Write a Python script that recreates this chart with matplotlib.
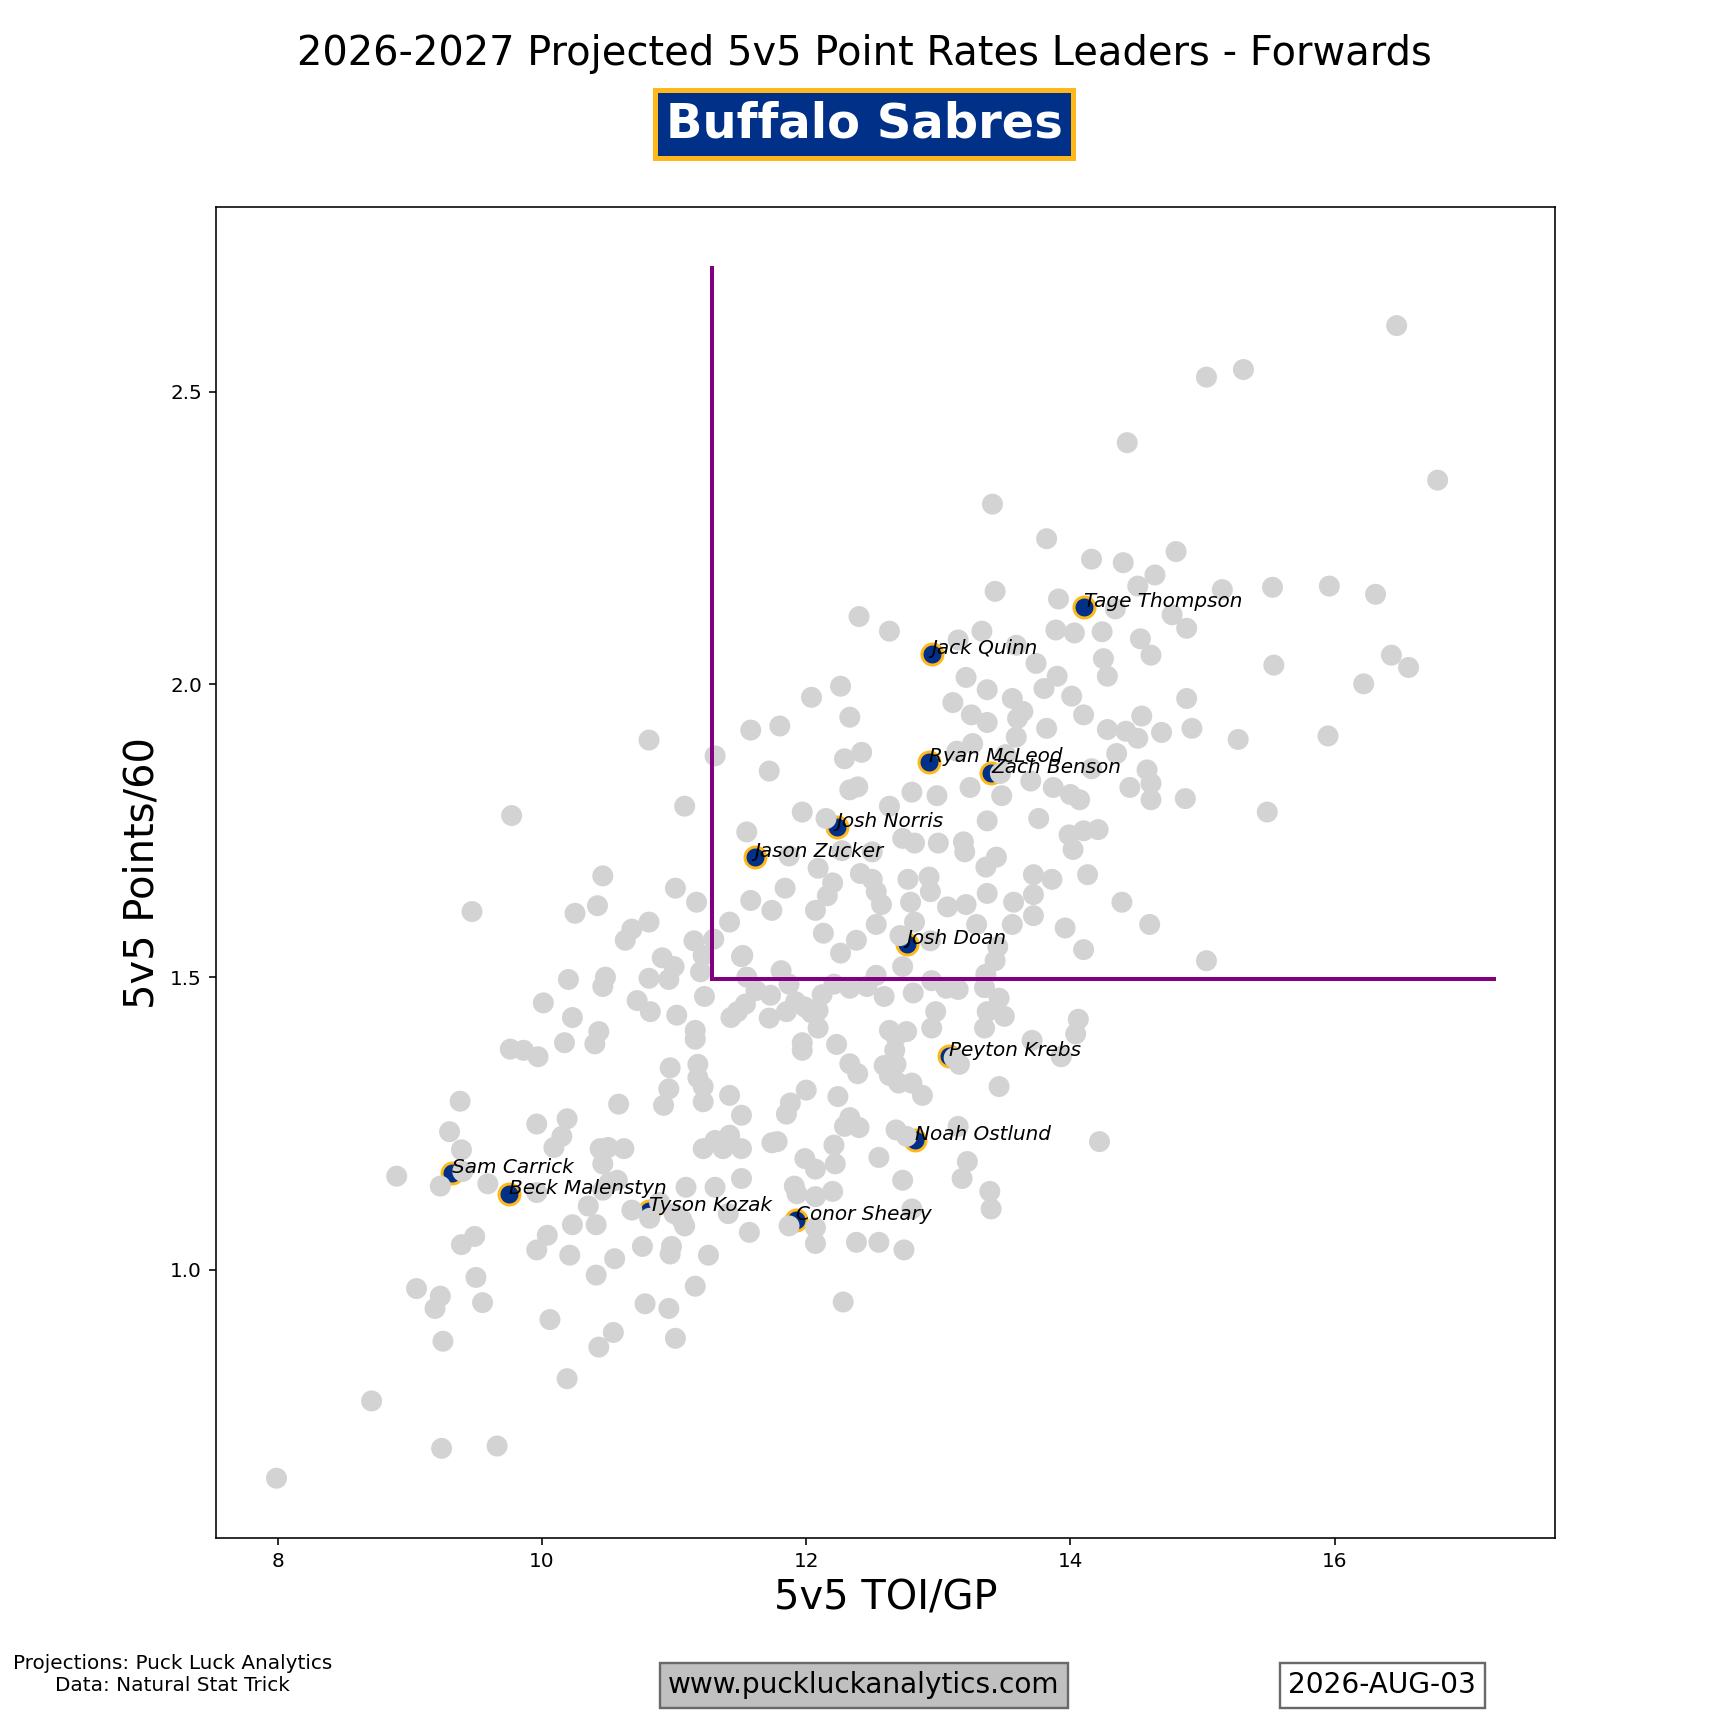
import matplotlib
matplotlib.use("Agg")
import matplotlib.pyplot as plt

# ---- data ----
league_toi = [
16.47,15.31,15.03,14.43,16.78,13.41,13.82,14.80,14.16,14.40,14.64,14.51,13.43,15.15,15.53,15.96,16.31,13.91,14.34,12.40,14.77,14.88,13.89,14.03,14.24,14.53,
12.63,13.33,13.15,14.61,14.25,16.43,16.56,15.54,13.74,13.59,13.21,14.28,13.90,13.80,13.37,16.22,14.01,12.04,13.56,13.11,14.88,12.26,13.64,14.54,14.10,13.60,12.33,13.25,13.37,14.28,14.42,13.82,14.69,14.92,15.27,15.95,11.58,11.80,14.51,13.59,10.81,11.31,11.72,12.42,12.29,13.14,13.26,14.35,13.51,14.16,14.58,14.61,14.45,13.87,14.00,13.70,13.24,13.48,14.61,14.87,14.07,12.80,12.99,12.33,12.39,11.08,12.63,11.97,15.49,9.77,13.76,13.37,14.21,14.10,13.99,12.15,11.55,13.00,12.82,12.73,13.19,13.20,13.44,14.02,12.50,12.27,11.87,14.13,13.72,13.36,12.93,12.77,12.50,12.41,12.20,12.09,10.46,13.86,13.37,13.57,13.72,11.01,11.84,12.53,12.94,14.39,12.79,13.21,13.07,12.57,11.17,12.07,11.58,12.16,9.47,10.42,10.25,11.74,13.29,13.56,13.72,14.60,13.96,12.53,12.82,12.71,11.42,10.68,10.81,10.63,12.13,12.38,11.15,11.30,12.94,13.45,14.10,12.26,11.52,11.22,10.91,11.00,15.03,12.73,13.43,10.81,11.20,10.96,10.48,10.20,10.46,11.55,11.23,11.62,11.81,11.87,11.92,12.53,12.46,12.33,12.21,12.12,12.95,13.06,12.59,12.81,13.36,13.35,13.15,13.46,13.37,13.50,12.98,14.06,14.04,13.71,13.93,13.35,12.95,12.76,12.68,12.63,12.67,12.68,12.59,12.63,12.70,12.80,12.88,13.16,13.46,13.15,13.22,13.18,13.39,13.40,14.22,12.73,12.80,12.74,12.55,12.38,12.28,12.55,12.68,12.40,12.21,12.29,12.33,12.24,12.33,12.39,12.23,12.22,12.20,11.99,12.00,11.97,11.97,12.09,12.04,12.07,11.91,11.93,12.07,11.87,12.07,12.07,11.85,11.88,11.78,11.74,11.51,11.42,11.31,11.22,11.37,11.51,11.31,11.09,11.41,11.06,11.08,11.57,11.26,11.00,11.16,11.01,10.96,10.97,10.98,10.76,10.78,10.55,10.54,10.43,10.41,10.21,10.19,10.06,10.04,10.23,10.41,10.35,10.46,10.51,10.57,10.46,10.44,10.50,10.62,10.58,10.89,10.92,10.96,10.97,11.18,11.18,11.22,11.22,11.42,11.16,11.16,11.02,11.43,11.48,11.54,11.51,11.72,11.73,11.85,11.99,12.09,11.51,
8.71,7.99,9.24,9.66,9.25,9.19,9.05,9.23,9.55,9.50,9.39,9.49,8.90,9.23,9.40,9.59,9.30,9.39,9.38,9.96,9.96,9.96,10.09,10.15,10.19,9.97,9.86,9.76,10.17,10.23,10.01,10.43,10.40,10.72,10.82,
13.12,10.815,10.68,12.76,13.47,
]
league_pts = [
2.613,2.538,2.525,2.413,2.349,2.308,2.249,2.227,2.214,2.208,2.187,2.168,2.159,2.162,2.166,2.168,2.154,2.146,2.129,2.116,2.119,2.096,2.093,2.088,2.090,2.078,
2.091,2.091,2.076,2.050,2.044,2.050,2.029,2.033,2.036,2.067,2.012,2.014,2.014,1.993,1.991,2.001,1.980,1.978,1.976,1.969,1.976,1.997,1.954,1.946,1.948,1.942,1.944,1.948,1.935,1.923,1.920,1.925,1.918,1.925,1.906,1.912,1.922,1.929,1.908,1.910,1.905,1.878,1.852,1.884,1.873,1.886,1.899,1.882,1.880,1.856,1.854,1.831,1.824,1.824,1.812,1.835,1.824,1.810,1.803,1.805,1.803,1.816,1.810,1.820,1.825,1.792,1.792,1.782,1.782,1.776,1.771,1.767,1.752,1.750,1.743,1.771,1.748,1.729,1.729,1.737,1.731,1.714,1.705,1.718,1.714,1.716,1.707,1.675,1.675,1.688,1.671,1.667,1.667,1.677,1.661,1.686,1.673,1.667,1.643,1.628,1.641,1.652,1.652,1.646,1.646,1.628,1.628,1.624,1.620,1.624,1.628,1.614,1.631,1.639,1.612,1.622,1.609,1.614,1.590,1.590,1.605,1.590,1.584,1.590,1.594,1.571,1.594,1.582,1.594,1.563,1.575,1.563,1.562,1.565,1.562,1.552,1.547,1.541,1.537,1.537,1.533,1.518,1.528,1.518,1.528,1.498,1.509,1.496,1.500,1.496,1.484,1.500,1.467,1.477,1.511,1.488,1.458,1.503,1.484,1.481,1.488,1.470,1.494,1.481,1.467,1.473,1.505,1.482,1.479,1.464,1.441,1.433,1.441,1.428,1.403,1.392,1.364,1.413,1.413,1.407,1.398,1.409,1.375,1.351,1.349,1.332,1.319,1.319,1.298,1.351,1.313,1.245,1.185,1.156,1.134,1.104,1.219,1.153,1.104,1.034,1.047,1.047,0.945,1.192,1.239,1.243,1.213,1.245,1.260,1.296,1.352,1.335,1.385,1.181,1.134,1.190,1.307,1.388,1.375,1.413,1.439,1.172,1.143,1.130,1.125,1.075,1.072,1.045,1.266,1.285,1.219,1.217,1.207,1.230,1.221,1.207,1.207,1.156,1.141,1.141,1.096,1.085,1.075,1.064,1.025,1.096,0.972,0.883,0.934,1.027,1.040,1.040,0.942,1.019,0.893,0.868,0.991,1.025,0.814,0.915,1.059,1.077,1.077,1.109,1.136,1.149,1.153,1.181,1.207,1.209,1.207,1.283,1.115,1.281,1.309,1.345,1.351,1.328,1.313,1.287,1.298,1.394,1.409,1.435,1.431,1.441,1.454,1.535,1.430,1.469,1.441,1.449,1.443,1.264,
0.776,0.644,0.695,0.699,0.878,0.934,0.968,0.955,0.944,0.987,1.043,1.057,1.160,1.143,1.168,1.147,1.236,1.205,1.288,1.034,1.132,1.249,1.209,1.228,1.258,1.364,1.375,1.377,1.388,1.431,1.456,1.407,1.386,1.460,1.441,
1.362,1.088,1.102,1.228,1.848,
]

team_players = ["Tage Thompson", "Jack Quinn", "Ryan McLeod", "Zach Benson", "Josh Norris",
                "Jason Zucker", "Josh Doan", "Peyton Krebs", "Noah Ostlund", "Sam Carrick",
                "Beck Malenstyn", "Tyson Kozak", "Conor Sheary"]
team_toi = [14.10, 12.95, 12.93, 13.40, 12.23, 11.61, 12.76, 13.08, 12.82, 9.32, 9.75, 10.81, 11.92]
team_pts = [2.133, 2.052, 1.867, 1.848, 1.756, 1.705, 1.556, 1.366, 1.221, 1.166, 1.130, 1.100, 1.085]

toi_threshold = 11.29
pts_threshold = 1.496
line_x_end = 17.21
line_y_end = 2.711

title = "2026-2027 Projected 5v5 Point Rates Leaders - Forwards"
team_name = "Buffalo Sabres"
navy = "#003087"
gold = "#FFB81C"

fig = plt.figure(figsize=(12, 12), dpi=144)
ax = fig.add_subplot(111)

ax.scatter(team_toi, team_pts, s=110, color=navy, edgecolors=gold, linewidths=1.5, zorder=2)
ax.scatter(league_toi, league_pts, s=110, color="lightgrey", edgecolors="none", zorder=3)
for name, x, y in zip(team_players, team_toi, team_pts):
    ax.text(x, y, name, fontsize=10, style="italic", zorder=5)

ax.plot([toi_threshold, toi_threshold], [pts_threshold, line_y_end], color="purple", lw=2, zorder=4)
ax.plot([toi_threshold, line_x_end], [pts_threshold, pts_threshold], color="purple", lw=2, zorder=4)

ax.set_xlim(7.532, 17.67)
ax.set_ylim(0.542, 2.815)
ax.set_xlabel("5v5 TOI/GP", fontsize=20)
ax.set_ylabel("5v5 Points/60", fontsize=20)

fig.text(0.5, 0.969, title, fontsize=20, ha="center", va="center")
fig.text(0.5, 0.928, team_name, fontsize=24, fontweight="bold", color="white", ha="center", va="center",
         bbox=dict(boxstyle="square,pad=0.22", facecolor=navy, edgecolor=gold, linewidth=2.5))

fig.text(0.1, 0.031, "Projections: Puck Luck Analytics\nData: Natural Stat Trick", fontsize=10,
         ha="center", va="center")
fig.text(0.5, 0.0246, "www.puckluckanalytics.com", fontsize=14, ha="center", va="center",
         bbox=dict(boxstyle="square,pad=0.3", facecolor="silver", edgecolor="dimgrey", linewidth=1.2))
fig.text(0.8, 0.0246, "2026-AUG-03", fontsize=14, ha="center", va="center",
         bbox=dict(boxstyle="square,pad=0.3", facecolor="white", edgecolor="dimgrey", linewidth=1.2))

fig.savefig("out.png", dpi=144)
